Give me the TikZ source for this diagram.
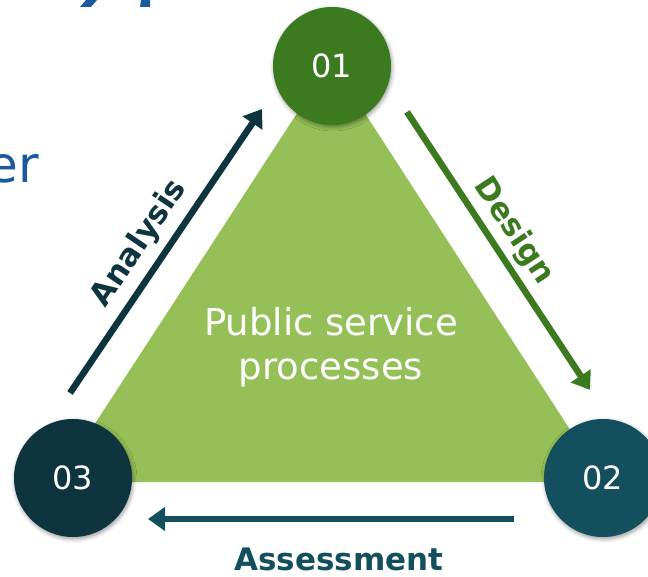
\documentclass[tikz,border=0pt]{standalone}
\usepackage{fontspec}
\setmainfont{DejaVu Sans}
\usetikzlibrary{arrows.meta,shadows.blur}
\definecolor{dkgreen}{HTML}{3B7A1E}
\definecolor{ltgreen}{HTML}{95C057}
\definecolor{navy}{HTML}{0E3440}
\definecolor{petrol}{HTML}{144F5D}
\definecolor{slideblue}{HTML}{1C5A9E}
\begin{document}
\begin{tikzpicture}[x=1pt,y=-1pt,
	numcircle/.style={circle, minimum size=118pt, inner sep=0pt, text=white, font=\fontsize{32}{32}\selectfont,
		blur shadow={shadow xshift=1pt, shadow yshift=-2pt, shadow blur radius=4pt, shadow opacity=40}},
	cycarrow/.style={line width=6.5pt, ->, >={Triangle[length=17pt,width=23pt]}},
	steplabel/.style={font=\fontsize{31}{31}\selectfont\bfseries, inner sep=0pt}]
	\useasboundingbox (0,0) rectangle (648,577);
	% rest of the slide text, cut off
	\fill[slideblue] (86,0) -- (97,0) -- (91,7) -- (80,7) -- cycle;
	\fill[slideblue] (141,0) -- (150,0) -- (150,7) -- (140,7) -- cycle;
	\node[anchor=base east, text=slideblue, font=\fontsize{50}{50}\selectfont, inner sep=0pt] (er) at (39,183) {er};
	% triangle
	\coordinate (t1) at (331,61);
	\coordinate (t2) at (604,482);
	\coordinate (t3) at (57,482);
	\fill[ltgreen] (t1) -- (t2) -- (t3) -- cycle;
	\node[text=white, align=center, font=\fontsize{37}{44}\selectfont] (proc) at (331,347) {Public service\\processes};
	% arrows
	\coordinate (a1) at (70,393);
	\coordinate (a2) at (262,109);
	\coordinate (d1) at (407,112);
	\coordinate (d2) at (590,390);
	\coordinate (s1) at (514,519);
	\coordinate (s2) at (148,519);
	\draw[cycarrow, navy] (a1) -- node[steplabel, sloped, above=8pt, pos=0.475] (lana) {Analysis} (a2);
	\draw[cycarrow, dkgreen] (d1) -- node[steplabel, sloped, above=5pt, pos=0.475] (ldes) {Design} (d2);
	\draw[cycarrow, petrol] (s1) -- node[steplabel, below=26pt, pos=0.478] (lass) {Assessment} (s2);
	% circles
	\node[numcircle, fill=dkgreen] (c1) at (332,66) {01};
	\node[numcircle, fill=petrol] (c2) at (603,478) {02};
	\node[numcircle, fill=navy] (c3) at (73,478) {03};
\end{tikzpicture}
\end{document}
